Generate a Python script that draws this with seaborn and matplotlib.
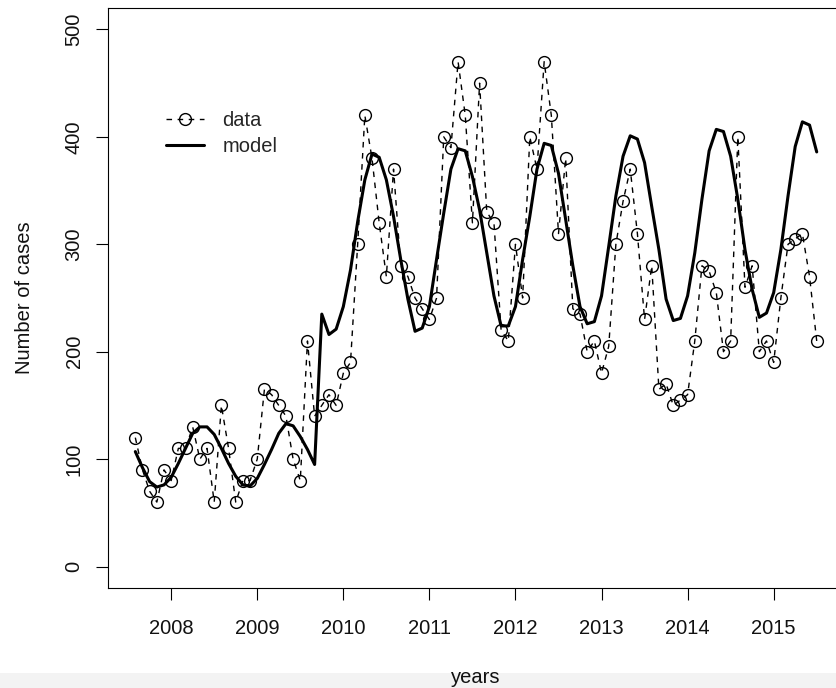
"""Monthly case counts with fitted seasonal model (R base-graphics look)."""

import numpy as np
import matplotlib
matplotlib.use("Agg")
import matplotlib.pyplot as plt
from matplotlib.patches import Rectangle
import seaborn as sns

# monthly observations, Aug 2007 .. Jul 2015
START_YEAR = 2007 + 7 / 12
N_MONTHS = 96
years = START_YEAR + np.arange(N_MONTHS) / 12

cases = [
    120, 90, 70, 60, 90,
    80, 110, 110, 130, 100, 110, 60, 150, 110, 60, 80, 80,
    100, 165, 160, 150, 140, 100, 80, 210, 140, 150, 160, 150,
    180, 190, 300, 420, 380, 320, 270, 370, 280, 270, 250, 240,
    230, 250, 400, 390, 470, 420, 320, 450, 330, 320, 220, 210,
    300, 250, 400, 370, 470, 420, 310, 380, 240, 235, 200, 210,
    180, 205, 300, 340, 370, 310, 230, 280, 165, 170, 150, 155,
    160, 210, 280, 275, 255, 200, 210, 400, 260, 280, 200, 210,
    190, 250, 300, 305, 310, 270, 210,
]

model = [
    107, 92, 79, 74, 76,
    83, 96, 110, 124, 130, 130, 123, 110, 96, 84, 76, 75,
    82, 95, 109, 124, 133, 131, 121, 109, 95, 235, 216, 221,
    242, 276, 321, 360, 384, 381, 360, 326, 286, 249, 219, 222,
    242, 286, 329, 370, 389, 387, 363, 332, 292, 252, 224, 224,
    242, 286, 326, 370, 394, 392, 366, 323, 280, 242, 226, 228,
    252, 298, 345, 382, 401, 398, 376, 335, 295, 249, 229, 231,
    252, 292, 342, 387, 407, 405, 382, 342, 295, 258, 232, 236,
    255, 295, 345, 391, 414, 411, 386,
]

x_ticks = [2008, 2009, 2010, 2011, 2012, 2013, 2014, 2015]
y_ticks = [0, 100, 200, 300, 400, 500]


def main() -> None:
    sns.set_theme(style="ticks")
    plt.rcParams["font.family"] = ["Liberation Sans", "DejaVu Sans"]

    fig = plt.figure(figsize=(8.37, 6.88), dpi=100)
    # axes box runs a little past the right edge, as in the cropped original
    ax = fig.add_axes([108 / 837, 1 - 588 / 688, 736 / 837, 580 / 688])

    sns.lineplot(
        x=years, y=cases, ax=ax, color="black", lw=1.0,
        linestyle=(0, (4, 4)), marker="o", markersize=8.5,
        markerfacecolor="none", markeredgecolor="black",
        markeredgewidth=1.0, label="data",
    )
    sns.lineplot(
        x=years, y=model, ax=ax, color="black", lw=2.2,
        solid_capstyle="round", solid_joinstyle="round", label="model",
    )

    ax.set_xlim(2007.266, 2015.817)
    ax.set_ylim(-20, 520)
    ax.set_xticks(x_ticks)
    ax.set_yticks(y_ticks)
    ax.tick_params(axis="both", direction="out", length=8.6, width=0.8,
                   color="black", labelsize=14.5, labelcolor="#111111")
    ax.tick_params(axis="x", pad=13.5)
    ax.tick_params(axis="y", pad=9, labelrotation=90)
    for label in ax.get_yticklabels():
        label.set_verticalalignment("center")

    for spine in ax.spines.values():
        spine.set_visible(True)
        spine.set_linewidth(0.8)
        spine.set_color("black")

    ax.set_xlabel("years", fontsize=14.5, labelpad=21.5, color="#111111")
    ax.set_ylabel("Number of cases", fontsize=14.5, labelpad=22,
                  color="#111111")

    ax.legend(
        loc="upper left", bbox_to_anchor=(166 / 837, 1 - 111 / 688),
        bbox_transform=fig.transFigure, frameon=False, fontsize=14.5,
        handlelength=1.9, handletextpad=0.9, labelspacing=0.35,
        borderpad=0, borderaxespad=0,
    )

    # light strip along the bottom of the screenshot
    fig.patches.append(Rectangle((0, 0), 1, 15 / 688, transform=fig.transFigure,
                                 facecolor="#f3f3f3", edgecolor="none",
                                 zorder=-1))

    fig.savefig("out.png", dpi=100)
    plt.close(fig)


if __name__ == "__main__":
    main()
